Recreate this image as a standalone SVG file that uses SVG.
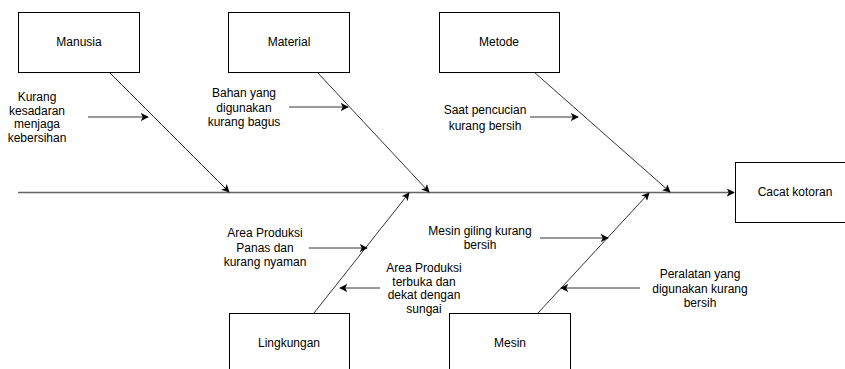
<svg xmlns="http://www.w3.org/2000/svg" width="845" height="369" viewBox="0 0 845 369">
<defs>
<marker id="ah" viewBox="0 0 10 10" refX="9" refY="5" markerWidth="8" markerHeight="8" markerUnits="userSpaceOnUse" orient="auto">
<path d="M0,0 L10,5 L0,10 L2.5,5 Z" fill="#000"/>
</marker>
<style>
.box{fill:#fff;stroke:#000;stroke-width:1}
.t{font-family:"Liberation Sans",Arial,sans-serif;font-size:12px;fill:#000;text-anchor:middle}
.bone{stroke:#333;stroke-width:1;fill:none;marker-end:url(#ah)}
.spine{stroke:#666;stroke-width:1.5;fill:none;marker-end:url(#ah)}
</style>
</defs>
<rect width="845" height="369" fill="#fff"/>
<g id="connectors">
<line class="spine" x1="18" y1="192.5" x2="734" y2="192.5"/>
<line class="bone" x1="109" y1="72" x2="229" y2="192"/>
<line class="bone" x1="317" y1="72" x2="429" y2="192"/>
<line class="bone" x1="534" y1="72" x2="670" y2="192"/>
<line class="bone" x1="314" y1="313" x2="409" y2="193"/>
<line class="bone" x1="538" y1="313" x2="649" y2="193"/>
<line class="bone" x1="88" y1="117" x2="148" y2="117"/>
<line class="bone" x1="289" y1="107" x2="348" y2="107"/>
<line class="bone" x1="530" y1="117" x2="578" y2="117"/>
<line class="bone" x1="309" y1="248" x2="367" y2="248"/>
<line class="bone" x1="380" y1="288" x2="340" y2="288"/>
<line class="bone" x1="540" y1="238" x2="608" y2="238"/>
<line class="bone" x1="640" y1="288" x2="561" y2="288"/>
</g>
<g id="manusia"><rect class="box" x="18.5" y="12.5" width="121" height="60"/><text class="t" x="79" y="46">Manusia</text></g>
<g id="material"><rect class="box" x="228.5" y="12.5" width="121" height="60"/><text class="t" x="289" y="46">Material</text></g>
<g id="metode"><rect class="box" x="439.5" y="12.5" width="120" height="60"/><text class="t" x="499" y="46">Metode</text></g>
<g id="cacat"><rect class="box" x="735.5" y="162.5" width="120" height="60"/><text class="t" x="795" y="196">Cacat kotoran</text></g>
<g id="lingkungan"><rect class="box" x="229.5" y="313.5" width="120" height="60"/><text class="t" x="289" y="347">Lingkungan</text></g>
<g id="mesin"><rect class="box" x="449.5" y="313.5" width="121" height="60"/><text class="t" x="510" y="347">Mesin</text></g>
<g id="labels">
<text class="t" x="37" y="101">Kurang</text>
<text class="t" x="37" y="114.5">kesadaran</text>
<text class="t" x="37" y="128">menjaga</text>
<text class="t" x="37" y="141.5">kebersihan</text>
<text class="t" x="244" y="97">Bahan yang</text>
<text class="t" x="244" y="111.5">digunakan</text>
<text class="t" x="244" y="126">kurang bagus</text>
<text class="t" x="485" y="114">Saat pencucian</text>
<text class="t" x="485" y="130">kurang bersih</text>
<text class="t" x="265" y="237">Area Produksi</text>
<text class="t" x="265" y="252">Panas dan</text>
<text class="t" x="265" y="266">kurang nyaman</text>
<text class="t" x="424" y="272">Area Produksi</text>
<text class="t" x="424" y="285.5">terbuka dan</text>
<text class="t" x="424" y="299">dekat dengan</text>
<text class="t" x="424" y="313">sungai</text>
<text class="t" x="480" y="235">Mesin giling kurang</text>
<text class="t" x="480" y="249">bersih</text>
<text class="t" x="700" y="278">Peralatan yang</text>
<text class="t" x="700" y="292.5">digunakan kurang</text>
<text class="t" x="700" y="307">bersih</text>
</g>
</svg>
